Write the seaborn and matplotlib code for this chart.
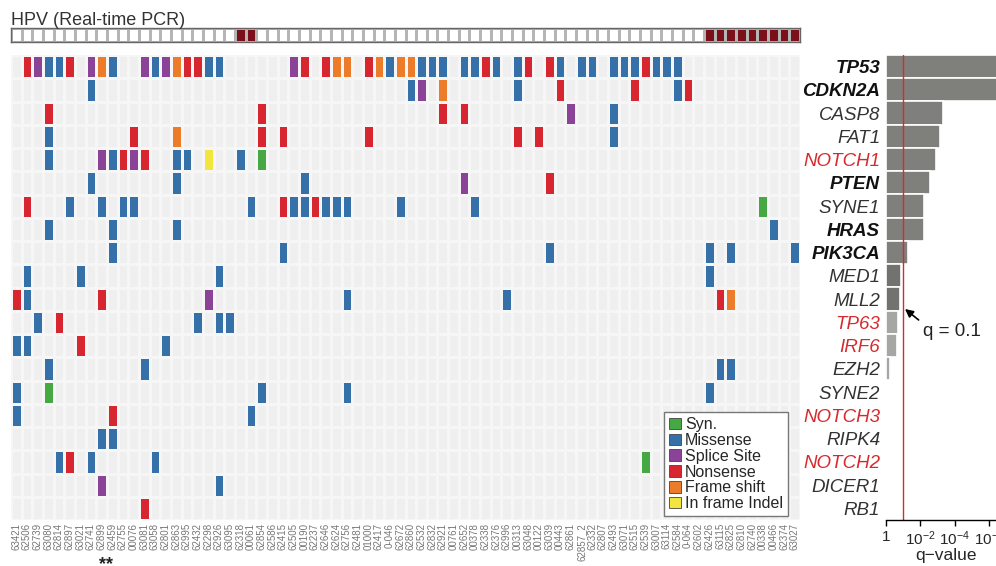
import numpy as np
import pandas as pd
import matplotlib
matplotlib.use("Agg")
import matplotlib.pyplot as plt
from matplotlib.colors import ListedColormap
from matplotlib.patches import Patch
import seaborn as sns

# ---- data ----
genes = ["TP53", "CDKN2A", "CASP8", "FAT1", "NOTCH1", "PTEN", "SYNE1", "HRAS",
         "PIK3CA", "MED1", "MLL2", "TP63", "IRF6", "EZH2", "SYNE2", "NOTCH3",
         "RIPK4", "NOTCH2", "DICER1", "RB1"]

samples = ["63421", "62506", "62739", "63080", "62814", "62897", "63021", "62741",
           "62899", "62459", "62755", "00076", "63081", "63058", "62801", "62863",
           "62995", "62432", "62298", "62926", "63095", "62318", "00061", "62854",
           "62586", "62415", "62505", "00190", "62237", "62646", "62624", "62756",
           "62481", "01000", "62417", "0-046", "62672", "62860", "62532", "62832",
           "62921", "00761", "62652", "00378", "62338", "62376", "62996", "00313",
           "63048", "00122", "63039", "00443", "62861", "62857_2", "62332", "62807",
           "62493", "63071", "62515", "62539", "63007", "63114", "62584", "0-064",
           "62602", "62426", "63115", "62825", "62810", "62740", "00338", "00466",
           "62374", "63027"]

# one char per sample, blocks of 10 samples
# . none  S syn  M missense  P splice site  N nonsense  F frame shift  I in frame indel
calls = [
    ".NPMMN.PFM ..PMPFNNMM ......PN.N FF.NFMFFMM M.MMNM.MN. NM.MM.MMMN MMM....... ....",  # TP53
    ".......M.. .......... .......... .......MP. F......M.. .N......N. ..MN...... ....",  # CDKN2A
    "...N...... .......... ...N...... .......... N.N....... ..P...M... .......... ....",  # CASP8
    "...M...... .N...F.... ...N.N.... ...N...... .......N.N ......M... .......... ....",  # FAT1
    "...M....PM NPN..MM.I. .M.S...... .......... .......... .......... .......... ....",  # NOTCH1
    ".......M.. .....M.... .......M.. .......... ..P....... N......... .......... ....",  # PTEN
    ".N...M..M. MM........ ..M..NMMNM MM....M... ...M...... .......... .......... S...",  # SYNE1
    "...M.....M .....M.... .......... .......... .......... .......... .......... .M..",  # HRAS
    ".........M .......... .....M.... .......... .......... M......... .....M.M.. ...M",  # PIK3CA
    ".M....M... .........M .......... .......... .......... .......... .....M.... ....",  # MED1
    "NM......N. ........P. .......... .M........ ......M... .......... ......NF.. ....",  # MLL2
    "..M.N..... .......M.M M......... .......... .......... .......... .......... ....",  # TP63
    "MM....N... ....M..... .......... .......... .......... .......... .......... ....",  # IRF6
    "...M...... ..M....... .......... .......... .......... .......... ......MM.. ....",  # EZH2
    "M..S...... .......... ...M...... .M........ .......... .......... .....M.... ....",  # SYNE2
    "M........N .......... ..M....... .......... .......... .......... .......... ....",  # NOTCH3
    "........MM .......... .......... .......... .......... .......... .......... ....",  # RIPK4
    "....MN.M.. ...M...... .......... .......... .......... .........S .......... ....",  # NOTCH2
    "........P. .........M .......... .......... .......... .......... .......... ....",  # DICER1
    ".......... ..N....... .......... .......... .......... .......... .......... ....",  # RB1
]

hpv_positive = [21, 22, 65, 66, 67, 68, 69, 70, 71, 72, 73]

# -log10(q) per gene, TP53 / CDKN2A run off the edge
neg_log10_q = [8.0, 8.0, 3.33, 3.15, 2.94, 2.6, 2.2, 2.2, 1.27, 0.88, 0.84,
               0.74, 0.68, 0.25, 0, 0, 0, 0, 0, 0]

bold_genes = ["TP53", "CDKN2A", "PTEN", "HRAS", "PIK3CA"]
red_genes = ["NOTCH1", "TP63", "IRF6", "NOTCH3", "NOTCH2"]

mut_types = ["Syn.", "Missense", "Splice Site", "Nonsense", "Frame shift", "In frame Indel"]
mut_colors = ["#46a843", "#3570a8", "#8b4398", "#d7262f", "#ec7b2a", "#f3e43e"]
codes = {".": 0, "S": 1, "M": 2, "P": 3, "N": 4, "F": 5, "I": 6}

# ---- build matrices ----
mat = np.array([[codes[c] for c in row.replace(" ", "")] for row in calls])
hpv = np.zeros((1, len(samples)))
hpv[0, hpv_positive] = 1

sns.set_style("white")
plt.rcParams["font.family"] = ["Liberation Sans", "DejaVu Sans"]
plt.rcParams["mathtext.fontset"] = "custom"
plt.rcParams["mathtext.rm"] = "Liberation Sans"

W, H = 996, 566
fig = plt.figure(figsize=(W / 100, H / 100), dpi=100)


def box(x0, y0, x1, y1):
    return [x0 / W, 1 - y1 / H, (x1 - x0) / W, (y1 - y0) / H]


ax_hpv = fig.add_axes(box(11, 28, 800, 42))
ax_grid = fig.add_axes(box(11, 55, 800, 520))
ax_bar = fig.add_axes(box(885.7, 55, 885.7 + 7 * 17.2, 520))

# HPV status strip
sns.heatmap(hpv, ax=ax_hpv, cmap=ListedColormap(["white", "#7b101a"]), vmin=0, vmax=1,
            cbar=False, linewidths=0.8, linecolor="#b5b5b5",
            xticklabels=False, yticklabels=False)
for s in ax_hpv.spines.values():
    s.set_visible(True)
    s.set_color("#666666")
    s.set_linewidth(1)
fig.text(11 / W, 1 - 25 / H, "HPV (Real-time PCR)", fontsize=13, color="#333333",
         va="baseline")

# mutation grid
sns.heatmap(mat, ax=ax_grid, cmap=ListedColormap(["#efefef"] + mut_colors),
            vmin=-0.5, vmax=6.5, cbar=False, linewidths=1.0, linecolor="#f6f6f6",
            xticklabels=samples, yticklabels=False)
ax_grid.tick_params(axis="x", length=0, labelsize=7, labelcolor="#777777", pad=2,
                    rotation=90)

handles = [Patch(facecolor=c, edgecolor="#444444", linewidth=0.6) for c in mut_colors]
fig.legend(handles, mut_types, loc="lower right", bbox_to_anchor=(788 / W, 1 - 516 / H),
           fontsize=11.5, frameon=True, fancybox=False, framealpha=1,
           edgecolor="#777777", borderpad=0.3, labelspacing=0.05, handlelength=0.75,
           handleheight=0.75, handletextpad=0.25, borderaxespad=0)

fig.text(106 / W, 1 - 556 / H, "**", ha="center", va="top", fontsize=13,
         fontweight="bold", color="#222222")

# q-value bars
bar_colors = {}
for g, v in zip(genes, neg_log10_q):
    if g in ["TP63", "IRF6", "EZH2"]:
        bar_colors[g] = "#a6a6a4"
    elif g in ["MED1", "MLL2"]:
        bar_colors[g] = "#727270"
    else:
        bar_colors[g] = "#7f7f7b"
df = pd.DataFrame({"gene": genes, "score": neg_log10_q})
sns.barplot(data=df, x="score", y="gene", hue="gene", palette=bar_colors, legend=False,
            orient="h", width=1.0, edgecolor="white", linewidth=1.2, saturation=1,
            ax=ax_bar)
ax_bar.set_xlim(0, 7)
ax_bar.set_ylim(19.5, -0.5)
ax_bar.axvline(1, color="#d62a2e", lw=1)
ax_bar.set_xticks([0, 2, 4, 6])
ax_bar.set_xticklabels(["1", r"$\mathregular{10^{-2}}$", r"$\mathregular{10^{-4}}$",
                        r"$\mathregular{10^{-6}}$"], fontsize=11)
ax_bar.tick_params(axis="x", length=4, width=1, color="black", pad=3, bottom=True)
ax_bar.tick_params(axis="y", length=0, pad=4)
ax_bar.set_xlabel("q\u2212value", fontsize=12.5, labelpad=0)
ax_bar.set_ylabel("")
for side in ["left", "top", "right"]:
    ax_bar.spines[side].set_visible(False)
ax_bar.spines["bottom"].set_color("black")
ax_bar.spines["bottom"].set_linewidth(1)

for lbl, g in zip(ax_bar.get_yticklabels(), genes):
    lbl.set_fontsize(13.5)
    lbl.set_fontstyle("italic")
    if g in bold_genes:
        lbl.set_fontweight("bold")
    lbl.set_color("#d62a2e" if g in red_genes else ("#111111" if g in bold_genes else "#333333"))

ax_bar.annotate("q = 0.1", xy=(905, H - 309), xycoords="figure pixels",
                xytext=(923, H - 332), textcoords="figure pixels",
                ha="left", va="center", fontsize=13.5, color="#222222",
                arrowprops=dict(arrowstyle="-|>", color="black", lw=1.2,
                                mutation_scale=12, relpos=(0, 1), shrinkA=1, shrinkB=0))

fig.savefig("out.png", dpi=100)
